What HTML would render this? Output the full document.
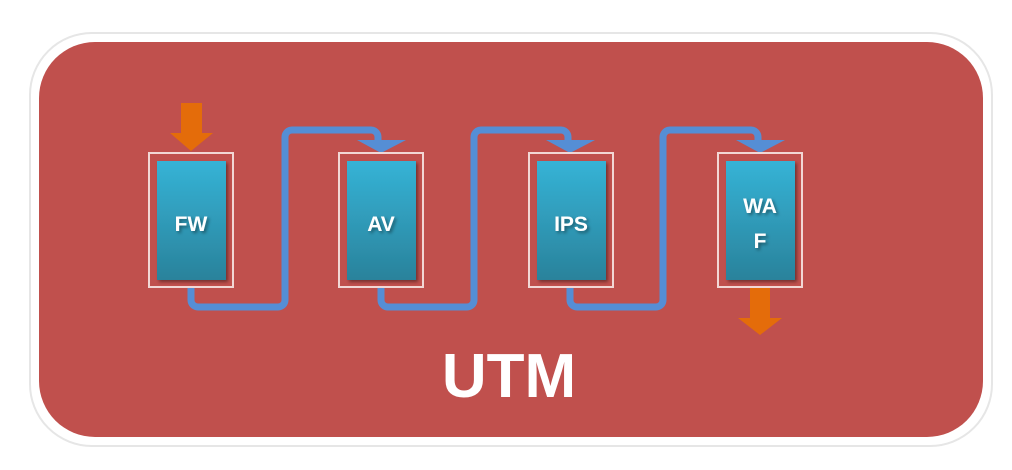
<!DOCTYPE html>
<html><head><style>
body{margin:0;background:#fff;width:1012px;height:465px;overflow:hidden}
</style></head><body>
<svg width="1012" height="465" viewBox="0 0 1012 465" xmlns="http://www.w3.org/2000/svg">
<defs>
<linearGradient id="g" x1="0" y1="0" x2="0" y2="1">
<stop offset="0" stop-color="#35b3d6"/><stop offset="1" stop-color="#2a829b"/>
</linearGradient>
<filter id="sh"><feDropShadow dx="2" dy="2" stdDeviation="1.5" flood-opacity="0.4"/></filter>
</defs>
<rect x="30" y="33" width="962" height="413" rx="62" fill="#fff" stroke="#e6e6e6" stroke-width="2"/>
<rect x="39" y="42" width="944" height="395" rx="56" fill="#c0504d"/>
<g fill="none" stroke="#558ed5" stroke-width="7" stroke-linejoin="round">
<path d="M191 287 V300 a7 7 0 0 0 7 7 H278 a7 7 0 0 0 7 -7 V137 a7 7 0 0 1 7 -7 H371 a7 7 0 0 1 7 7 V143"/>
<path d="M381 287 V300 a7 7 0 0 0 7 7 H467 a7 7 0 0 0 7 -7 V137 a7 7 0 0 1 7 -7 H561 a7 7 0 0 1 7 7 V143"/>
<path d="M570 287 V300 a7 7 0 0 0 7 7 H656 a7 7 0 0 0 7 -7 V137 a7 7 0 0 1 7 -7 H751 a7 7 0 0 1 7 7 V143"/>
</g>
<g fill="#558ed5">
<polygon points="357,140 406,140 381,153"/>
<polygon points="546,140 595,140 570,153"/>
<polygon points="736,140 785,140 760,153"/>
</g>
<g fill="#e46c0a">
<polygon points="181,103 202,103 202,133 213,133 191,151 170,133 181,133"/>
<polygon points="750,288 770,288 770,318 782,318 760,335 738,318 750,318"/>
</g>
<g fill="none" stroke="#f2d7d5" stroke-width="2">
<rect x="149" y="153" width="84" height="134"/>
<rect x="339" y="153" width="84" height="134"/>
<rect x="529" y="153" width="84" height="134"/>
<rect x="718" y="153" width="84" height="134"/>
</g>
<g fill="url(#g)" filter="url(#sh)">
<rect x="157" y="161" width="69" height="119"/>
<rect x="347" y="161" width="69" height="119"/>
<rect x="537" y="161" width="69" height="119"/>
<rect x="726" y="161" width="69" height="119"/>
</g>
<g fill="#fff" font-family="Liberation Sans, sans-serif" font-weight="bold" font-size="21" text-anchor="middle" filter="url(#sh)">
<text x="191" y="231">FW</text>
<text x="381" y="231">AV</text>
<text x="571" y="231">IPS</text>
<text x="760" y="213">WA</text>
<text x="760" y="248">F</text>
</g>
<text x="509" y="397" fill="#fff" font-family="Liberation Sans, sans-serif" font-weight="bold" font-size="62" text-anchor="middle">UTM</text>
</svg>
</body></html>
